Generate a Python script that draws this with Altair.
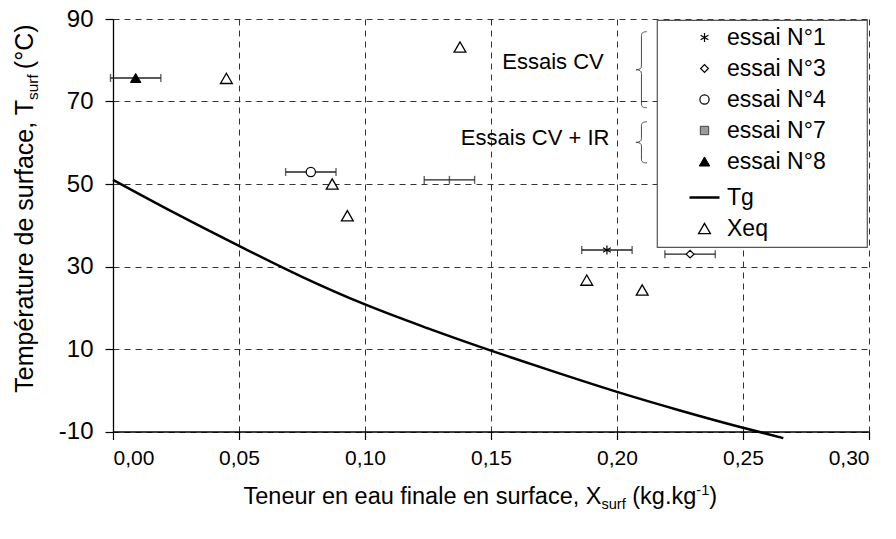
import altair as alt
import pandas as pd

# ---------------- data ----------------
tg_x = [0.0, 0.025, 0.05, 0.075, 0.10, 0.125, 0.15, 0.175, 0.20, 0.225, 0.25, 0.266]
tg_t = [51.0, 42.8, 35.0, 27.5, 20.8, 15.0, 9.6, 4.5, -0.4, -4.9, -9.1, -11.6]

essai_names = ["essai N°1", "essai N°3", "essai N°4", "essai N°7", "essai N°8"]
essai_x = [0.196, 0.229, 0.0785, 0.1335, 0.009]
essai_t = [34.0, 33.0, 52.9, 51.0, 75.7]
essai_err = [0.010, 0.010, 0.010, 0.010, 0.010]

xeq_x = [0.045, 0.1377, 0.087, 0.093, 0.188, 0.210]
xeq_t = [75.6, 83.2, 50.0, 42.3, 26.7, 24.3]

series = ["essai N°1", "essai N°3", "essai N°4", "essai N°7", "essai N°8", "Tg", "Xeq"]

note_text = ["Essais CV", "Essais CV + IR"]
note_x = [0.1746, 0.1675]
note_t = [79.6, 61.2]
brace_x = [0.2097, 0.2097]
brace_t = [77.7, 60.1]

x_ticks = [0.0, 0.05, 0.10, 0.15, 0.20, 0.25, 0.30]
y_ticks = [-10, 10, 30, 50, 70, 90]

# ---------------- styles ----------------
FONT = "Liberation Sans"
W, H = 756, 412.5
ASTER = "M0,-1L0,1M-0.87,-0.5L0.87,0.5M-0.87,0.5L0.87,-0.5"
shape_range = [ASTER, "diamond", "circle", "square", "triangle-up", "stroke", "triangle-up"]
fill_range = ["transparent", "white", "white", "#9a9a9a", "black", "transparent", "white"]
stroke_range = ["black", "black", "black", "#444444", "black", "black", "black"]
size_range = [80, 60, 85, 70, 110, 900, 140]
sw_range = [1.2, 1.2, 1.2, 1.0, 1.0, 2.5, 1.3]

# an invisible title on the right only widens the legend box like the reference
leg = alt.Legend(title=".", titleOrient="right", titleOpacity=0, titleFontSize=10,
                 titlePadding=32)
sc_shape = alt.Scale(domain=series, range=shape_range)
sc_fill = alt.Scale(domain=series, range=fill_range)
sc_stroke = alt.Scale(domain=series, range=stroke_range)
sc_size = alt.Scale(type="ordinal", domain=series, range=size_range)
sc_sw = alt.Scale(type="ordinal", domain=series, range=sw_range)

xs = alt.Scale(domain=[0, 0.30], nice=False, zero=False)
ys = alt.Scale(domain=[-10, 90], nice=False, zero=False)

essai = pd.DataFrame({"series": essai_names, "x": essai_x, "t": essai_t, "err": essai_err})
essai["lo"] = essai["x"] - essai["err"]
essai["hi"] = essai["x"] + essai["err"]
pts = pd.concat([
    essai[essai["series"] != "essai N°7"][["series", "x", "t"]],
    pd.DataFrame({"series": ["Xeq"] * len(xeq_x), "x": xeq_x, "t": xeq_t}),
], ignore_index=True)
tg = pd.DataFrame({"series": ["Tg"] * len(tg_x), "x": tg_x, "t": tg_t})
notes = pd.DataFrame({"txt": note_text, "x": note_x, "t": note_t})

X = lambda f: alt.X(f, scale=xs, axis=alt.Axis(
    values=x_ticks, title=None, grid=True,
    labelExpr="replace(format(datum.value, '.2f'), '.', ',')"))
Y = lambda f: alt.Y(f, scale=ys, axis=alt.Axis(
    values=y_ticks, title=None, grid=True,
    labelExpr="datum.value < 0 ? '-' + abs(datum.value) : '' + datum.value"))

base_ax = alt.Chart(tg).mark_line(strokeCap="butt", interpolate="monotone").encode(
    x=X("x:Q"), y=Y("t:Q"),
    stroke=alt.Stroke("series:N", scale=sc_stroke, legend=leg),
    strokeWidth=alt.StrokeWidth("series:N", scale=sc_sw, legend=leg),
)

EB = "#222222"
bars = alt.Chart(essai).mark_rule(color=EB, strokeWidth=1.4).encode(
    x="lo:Q", x2="hi:Q", y="t:Q")
caps_lo = alt.Chart(essai).mark_point(shape="M0,-1L0,1", size=64, stroke=EB,
                                      strokeWidth=1.4, filled=False).encode(x="lo:Q", y="t:Q")
caps_hi = alt.Chart(essai).mark_point(shape="M0,-1L0,1", size=64, stroke=EB,
                                      strokeWidth=1.4, filled=False).encode(x="hi:Q", y="t:Q")
mid7 = alt.Chart(essai[essai["series"] == "essai N°7"]).mark_point(
    shape="M0,-1L0,1", size=64, stroke=EB, strokeWidth=1.4, filled=False
).encode(x="x:Q", y="t:Q")

points = alt.Chart(pts).mark_point(filled=True, opacity=1).encode(
    x="x:Q", y="t:Q",
    shape=alt.Shape("series:N", scale=sc_shape, legend=leg),
    fill=alt.Fill("series:N", scale=sc_fill, legend=leg),
    stroke=alt.Stroke("series:N", scale=sc_stroke, legend=leg),
    size=alt.Size("series:N", scale=sc_size, legend=leg),
    strokeWidth=alt.StrokeWidth("series:N", scale=sc_sw, legend=leg),
)

note_layer = alt.Chart(notes).mark_text(font=FONT, fontSize=22, align="center",
                                        baseline="middle", color="black").encode(
    x="x:Q", y="t:Q", text="txt:N")

BR1 = "M0.14,-1C0.04,-1 0,-0.97 0,-0.9L0,-0.1C0,-0.03 -0.05,0 -0.14,0C-0.05,0 0,0.03 0,0.1L0,0.9C0,0.97 0.04,1 0.14,1"
BR2 = "M0.27,-1C0.08,-1 0,-0.95 0,-0.82L0,-0.18C0,-0.06 -0.09,0 -0.27,0C-0.09,0 0,0.06 0,0.18L0,0.82C0,0.95 0.08,1 0.27,1"
braces_df = pd.DataFrame({"x": brace_x, "t": brace_t})
brace1 = alt.Chart(braces_df.iloc[[0]]).mark_point(shape=BR1, size=76 * 76, filled=False,
                                                   stroke="black", strokeWidth=1).encode(x="x:Q", y="t:Q")
brace2 = alt.Chart(braces_df.iloc[[1]]).mark_point(shape=BR2, size=41 * 41, filled=False,
                                                   stroke="black", strokeWidth=1).encode(x="x:Q", y="t:Q")

# ---------------- titles with sub/superscripts ----------------
AW = {" ": 278, "(": 333, ")": 333, ",": 278, ".": 278, "-": 333, "°": 400, "+": 584,
      "C": 722, "E": 667, "I": 278, "N": 722, "R": 722, "T": 611, "V": 667, "X": 667,
      "a": 556, "c": 500, "d": 556, "e": 556, "é": 556, "f": 278, "g": 556, "i": 222,
      "k": 500, "l": 222, "m": 833, "n": 556, "p": 556, "r": 333, "s": 500, "t": 278,
      "u": 556, "1": 556}


def tw(s, fs):
    return sum(AW.get(c, 556) for c in s) / 1000.0 * fs


def txt(s, f, x, y, align, angle=0):
    kw = dict(text=s, font=FONT, fontSize=f, align=align, baseline="alphabetic", color="black")
    if angle:
        kw["angle"] = angle
    return alt.Chart(pd.DataFrame({"k": [0]})).mark_text(**kw).encode(
        x=alt.value(x), y=alt.value(y))


title_layers = []
# x title: main part right-aligned at junction J, the rest chained to the right
fx = 23.5
fxs = fx * 0.62
main_x = "Teneur en eau finale en surface, X"
total = (tw(main_x, fx) + tw("surf", fxs) + tw(" ", fx) + tw("(kg.kg", fx)
         + tw("-1", fxs) + tw(")", fx))
cx, by = 479 - 113, 504 - 19
J = cx - total / 2 + tw(main_x, fx)
title_layers.append(txt(main_x, fx, J, by, "right"))
p = J
title_layers.append(txt("surf", fxs, p, by + 5, "left"))
p += tw("surf", fxs) + tw(" ", fx)
title_layers.append(txt("(kg.kg", fx, p, by, "left"))
p += tw("(kg.kg", fx)
title_layers.append(txt("-1", fxs, p, by - 9, "left"))
p += tw("-1", fxs)
title_layers.append(txt(")", fx, p, by, "left"))

# y title (rotated, reads bottom to top)
fy = 25
fys = fy * 0.62
bx = 33 - 113
Jy = 100 - 19
title_layers.append(txt("Température de surface, T", fy, bx, Jy, "right", 270))
title_layers.append(txt("surf", fys, bx + 5, Jy, "left", 270))
title_layers.append(txt("(°C)", fy, bx, Jy - tw("surf", fys) - 5, "left", 270))

chart = alt.layer(
    base_ax, bars, caps_lo, caps_hi, mid7, points, note_layer, brace1, brace2, *title_layers
).properties(
    width=W, height=H,
    autosize=alt.AutoSizeParams(type="none"),
    padding={"left": 105, "top": 11, "right": 19, "bottom": 90},
).configure_view(stroke=None).configure_axis(
    gridDash=[6, 5], gridColor="#333333", gridWidth=1, gridOpacity=1,
    domainColor="black", domainWidth=1.3, tickColor="black", tickSize=8, tickWidth=1.2,
    labelFont=FONT, labelColor="black",
).configure_axisX(labelFontSize=21, labelPadding=8).configure_axisY(
    labelFontSize=24, labelPadding=12
).configure_legend(
    orient="none", legendX=544, legendY=1, padding=6,
    fillColor="white", strokeColor="#555555", strokeWidth=1.2,
    labelFont=FONT, labelFontSize=23, labelColor="black",
    symbolOffset=25, labelOffset=6, rowPadding=7,
)

chart.save("out.html", embed_options={"renderer": "svg", "actions": False})
